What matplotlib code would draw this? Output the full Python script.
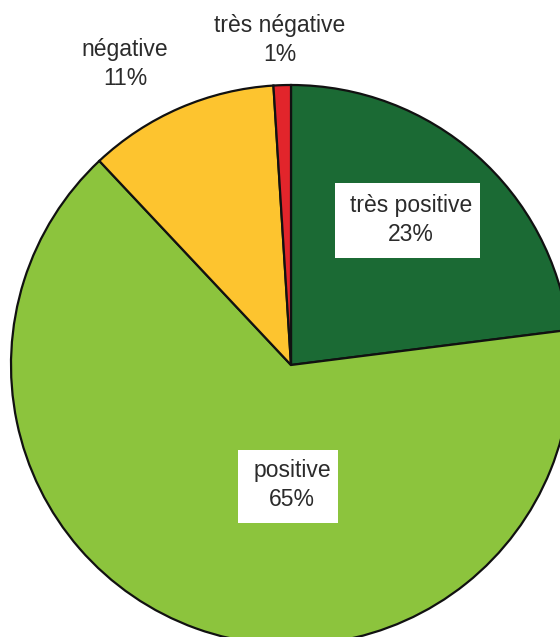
import matplotlib.pyplot as plt
from matplotlib.patches import Rectangle

plt.rcParams['font.family'] = ['Liberation Sans', 'DejaVu Sans']

categories = ['très positive', 'positive', 'négative', 'très négative']
shares = [23, 65, 11, 1]
colors = ['#1b6a34', '#8cc43d', '#fdc42f', '#e2252b']

W, H = 560, 637
fig = plt.figure(figsize=(W / 100, H / 100), dpi=100)
ax = fig.add_axes([0, 0, 1, 1])

ax.pie(shares, colors=colors, startangle=90, counterclock=False,
       center=(291, H - 365), radius=280, frame=True,
       wedgeprops=dict(edgecolor='#111111', linewidth=1.6))
ax.set_xlim(0, W)
ax.set_ylim(0, H)
ax.set_aspect('equal')
ax.axis('off')

txt = dict(fontsize=16.5, color='#2b2b2b', ha='center', va='center',
           linespacing=1.35)

# white label boxes inside the slices
ax.add_patch(Rectangle((335, H - 258), 145, 75, facecolor='white',
                       edgecolor='none', zorder=3))
ax.add_patch(Rectangle((238, H - 523), 100, 73, facecolor='white',
                       edgecolor='none', zorder=3))

ax.text(411, H - 220, f'{categories[0]}\n{shares[0]}%', zorder=4, **txt)
ax.text(292, H - 485, f'{categories[1]}\n{shares[1]}%', zorder=4, **txt)
ax.text(125, H - 64, f'{categories[2]}\n{shares[2]}%', **txt)
ax.text(280, H - 40, f'{categories[3]}\n{shares[3]}%', **txt)

fig.savefig('out.png', dpi=100)
